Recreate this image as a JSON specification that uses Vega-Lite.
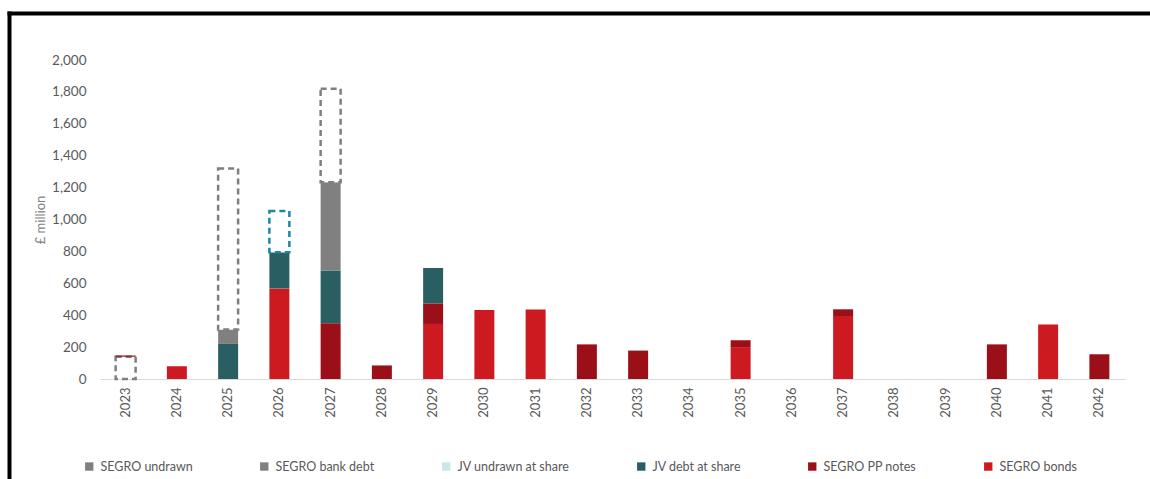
{
  "$schema": "https://vega.github.io/schema/vega-lite/v6.json",
  "width": 1141,
  "height": 466,
  "autosize": {"type": "none"},
  "padding": {"left": 9, "top": 13, "right": 0, "bottom": 0},
  "background": "white",
  "config": {
    "view": {"stroke": null},
    "font": "Lato"
  },
  "data": {
    "values": [
      {"year": "2023", "series": "SEGRO undrawn", "value": 140, "rank": 6},
      {"year": "2023", "series": "SEGRO PP notes", "value": 8, "rank": 7},
      {"year": "2024", "series": "SEGRO bonds", "value": 80, "rank": 1},
      {"year": "2025", "series": "JV debt at share", "value": 220, "rank": 3},
      {"year": "2025", "series": "SEGRO bank debt", "value": 90, "rank": 4},
      {"year": "2025", "series": "SEGRO undrawn", "value": 1010, "rank": 6},
      {"year": "2026", "series": "SEGRO bonds", "value": 568, "rank": 1},
      {"year": "2026", "series": "JV debt at share", "value": 226, "rank": 3},
      {"year": "2026", "series": "JV undrawn at share", "value": 260, "rank": 5},
      {"year": "2027", "series": "SEGRO PP notes", "value": 350, "rank": 2},
      {"year": "2027", "series": "JV debt at share", "value": 330, "rank": 3},
      {"year": "2027", "series": "SEGRO bank debt", "value": 553, "rank": 4},
      {"year": "2027", "series": "SEGRO undrawn", "value": 587, "rank": 6},
      {"year": "2028", "series": "SEGRO PP notes", "value": 85, "rank": 2},
      {"year": "2029", "series": "SEGRO bonds", "value": 345, "rank": 1},
      {"year": "2029", "series": "SEGRO PP notes", "value": 129, "rank": 2},
      {"year": "2029", "series": "JV debt at share", "value": 222, "rank": 3},
      {"year": "2030", "series": "SEGRO bonds", "value": 433, "rank": 1},
      {"year": "2031", "series": "SEGRO bonds", "value": 435, "rank": 1},
      {"year": "2032", "series": "SEGRO PP notes", "value": 217, "rank": 2},
      {"year": "2033", "series": "SEGRO PP notes", "value": 176, "rank": 2},
      {"year": "2033", "series": "SEGRO bank debt", "value": 4, "rank": 4},
      {"year": "2035", "series": "SEGRO bonds", "value": 200, "rank": 1},
      {"year": "2035", "series": "SEGRO PP notes", "value": 43, "rank": 2},
      {"year": "2037", "series": "SEGRO bonds", "value": 395, "rank": 1},
      {"year": "2037", "series": "SEGRO PP notes", "value": 42, "rank": 2},
      {"year": "2040", "series": "SEGRO PP notes", "value": 217, "rank": 2},
      {"year": "2041", "series": "SEGRO bonds", "value": 341, "rank": 1},
      {"year": "2042", "series": "SEGRO PP notes", "value": 155, "rank": 2}
    ]
  },
  "layer": [
    {
      "mark": {"type": "bar"},
      "encoding": {
        "x": {
          "field": "year",
          "type": "ordinal",
          "scale": {
            "domain": ["2023","2024","2025","2026","2027","2028","2029","2030","2031","2032","2033","2034","2035","2036","2037","2038","2039","2040","2041","2042"],
            "range": [91, 1116],
            "paddingInner": 0.61,
            "paddingOuter": 0.305
          },
          "axis": {
            "title": null,
            "orient": "bottom",
            "offset": -100,
            "domainColor": "#d9d9d9",
            "domainWidth": 1,
            "ticks": false,
            "tickSize": 0,
            "labelAngle": 270,
            "labelPadding": 8,
            "labelFontSize": 13,
            "labelColor": "#595959",
            "labelFont": "Lato"
          }
        },
        "y": {
          "field": "value",
          "type": "quantitative",
          "stack": "zero",
          "scale": {"domain": [0, 2000], "range": [366, 47], "nice": false, "zero": true},
          "axis": {
            "title": "£ million",
            "orient": "left",
            "values": [0, 200, 400, 600, 800, 1000, 1200, 1400, 1600, 1800, 2000],
            "format": ",.0f",
            "offset": -83,
            "domain": false,
            "ticks": false,
            "tickSize": 0,
            "grid": false,
            "labelPadding": 6,
            "labelFontSize": 13.5,
            "labelColor": "#595959",
            "labelFont": "Lato",
            "titleColor": "#7f7f7f",
            "titleFontWeight": "normal",
            "titleFontSize": 13,
            "titleFont": "Lato",
            "titlePadding": 4
          }
        },
        "color": {
          "condition": {"test": "datum.series === 'SEGRO undrawn' || datum.series === 'JV undrawn at share'", "value": "white"},
          "field": "series",
          "type": "nominal",
          "scale": {
            "domain": ["SEGRO undrawn", "SEGRO bank debt", "JV undrawn at share", "JV debt at share", "SEGRO PP notes", "SEGRO bonds"],
            "range": ["#7f7f7f", "#808080", "#cde6e6", "#295e62", "#9b1018", "#cd1a21"]
          },
          "legend": {
            "orient": "none",
            "legendX": 74,
            "legendY": 447,
            "direction": "horizontal",
            "title": null,
            "symbolType": "square",
            "symbolSize": 70,
            "labelFontSize": 12.5,
            "labelFont": "Lato",
            "labelColor": "#595959",
            "labelOffset": 5,
            "columnPadding": 64
          }
        },
        "stroke": {
          "condition": [
            {"test": "datum.series === 'SEGRO undrawn'", "value": "#7f7f7f"},
            {"test": "datum.series === 'JV undrawn at share'", "value": "#1c86a5"}
          ],
          "value": "transparent"
        },
        "strokeWidth": {
          "condition": {"test": "datum.series === 'SEGRO undrawn' || datum.series === 'JV undrawn at share'", "value": 2.5},
          "value": 0
        },
        "strokeDash": {
          "condition": {"test": "datum.series === 'SEGRO undrawn' || datum.series === 'JV undrawn at share'", "value": [6, 4]},
          "value": [1, 0]
        },
        "order": {"field": "rank", "type": "quantitative"}
      }
    },
    {
      "mark": {"type": "point", "opacity": 0},
      "encoding": {
        "x": {
          "field": "year",
          "type": "ordinal",
          "scale": {"range": [0, 1141]},
          "axis": {"orient": "top", "title": null, "labels": false, "ticks": false, "grid": false, "domainColor": "#000000", "domainWidth": 4, "domainCap": "square"}
        },
        "y": {
          "field": "value",
          "type": "quantitative",
          "scale": {"range": [466, 0]},
          "axis": {"orient": "left", "title": null, "labels": false, "ticks": false, "grid": false, "domainColor": "#000000", "domainWidth": 4, "domainCap": "square"}
        }
      }
    }
  ],
  "resolve": {
    "scale": {"x": "independent", "y": "independent"},
    "axis": {"x": "independent", "y": "independent"}
  }
}
